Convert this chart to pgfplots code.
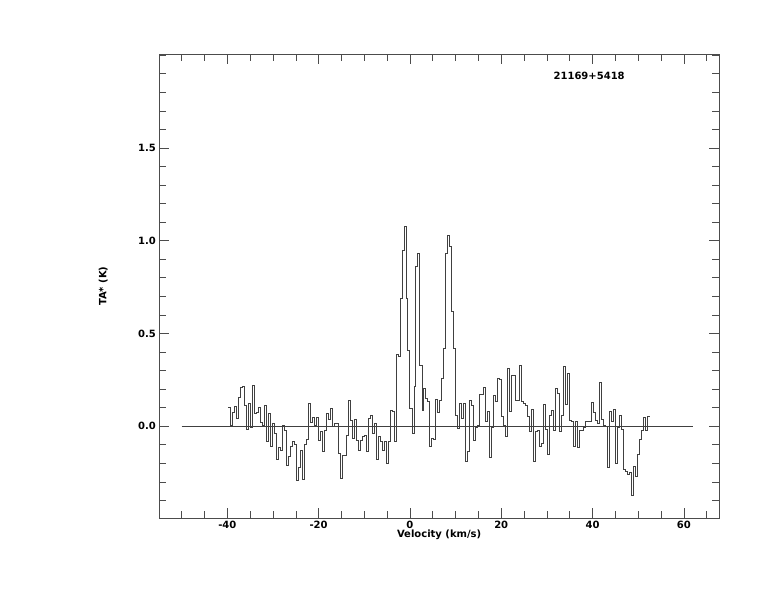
\documentclass[border=0pt]{standalone}
\usepackage{fontspec}
\setmainfont{DejaVu Sans}
\usepackage{pgfplots}
\usepackage{pgfplotstable}
\pgfplotsset{compat=1.18}
\pgfplotstableread{
v T
-39.85 0.10
-39.41 0.005
-38.97 0.077
-38.54 0.108
-38.10 0.041
-37.66 0.158
-37.22 0.212
-36.79 0.216
-36.35 0.113
-35.91 -0.018
-35.47 0.122
-35.04 -0.004
-34.60 0.221
-34.16 0.068
-33.72 0.077
-33.29 0.10
-32.85 0.023
-32.41 0.005
-31.97 0.113
-31.54 -0.084
-31.10 0.068
-30.66 -0.111
-30.22 0.014
-29.79 -0.04
-29.35 -0.18
-28.91 -0.115
-28.47 -0.13
-28.04 0.005
-27.60 -0.022
-27.16 -0.21
-26.72 -0.162
-26.29 -0.108
-25.85 -0.079
-25.41 -0.10
-24.97 -0.29
-24.53 -0.22
-24.10 -0.13
-23.66 -0.288
-23.22 -0.10
-22.78 -0.072
-22.35 0.122
-21.91 0.023
-21.47 0.05
-21.03 0.005
-20.60 0.05
-20.16 -0.075
-19.72 -0.03
-19.28 -0.135
-18.85 -0.02
-18.41 0.068
-17.97 0.038
-17.53 0.097
-17.10 0.0
-16.66 0.016
-16.22 0.016
-15.78 -0.146
-15.35 -0.28
-14.91 -0.155
-14.47 -0.155
-14.03 -0.047
-13.59 0.142
-13.16 0.034
-12.72 -0.065
-12.28 0.038
-11.84 -0.074
-11.41 -0.128
-10.97 -0.077
-10.53 -0.056
-10.09 -0.047
-9.66 -0.137
-9.22 0.043
-8.78 0.056
-8.34 -0.038
-7.91 0.016
-7.47 -0.181
-7.03 -0.056
-6.59 -0.083
-6.16 -0.128
-5.72 -0.083
-5.28 -0.2
-4.84 -0.083
-4.41 0.088
-3.97 0.079
-3.53 -0.083
-3.09 0.385
-2.65 0.376
-2.22 0.69
-1.78 0.95
-1.34 1.08
-0.90 0.69
-0.47 0.41
-0.03 0.097
0.41 -0.04
0.85 0.214
1.28 0.86
1.72 0.93
2.16 0.33
2.60 0.088
3.03 0.205
3.47 0.15
3.91 0.133
4.35 -0.11
4.78 -0.065
5.22 -0.07
5.66 0.146
6.10 0.074
6.54 0.14
6.97 0.26
7.41 0.42
7.85 0.93
8.29 1.03
8.72 0.97
9.16 0.62
9.60 0.42
10.04 0.06
10.47 -0.01
10.91 0.124
11.35 0.04
11.79 0.124
12.22 -0.19
12.66 -0.137
13.10 0.142
13.54 0.115
13.97 -0.074
14.41 -0.005
14.85 0.007
15.29 0.174
15.73 0.174
16.16 0.21
16.60 0.025
17.04 0.079
17.48 -0.17
17.91 -0.005
18.35 0.169
18.79 0.133
19.23 0.259
19.66 0.253
20.10 0.052
20.54 0.007
20.98 -0.056
21.41 0.313
21.85 0.079
22.29 0.277
22.73 0.277
23.16 0.137
23.60 0.142
24.04 0.33
24.48 0.133
24.91 0.124
25.35 0.115
25.79 0.052
26.23 -0.029
26.67 0.09
27.10 -0.19
27.54 -0.029
27.98 -0.02
28.42 -0.106
28.85 -0.092
29.29 0.12
29.73 -0.016
30.17 -0.15
30.60 0.061
31.04 0.083
31.48 -0.023
31.92 0.205
32.35 0.178
32.79 -0.029
33.23 0.061
33.67 0.325
34.10 0.12
34.54 0.286
34.98 0.034
35.42 0.025
35.85 -0.106
36.29 0.025
36.73 -0.113
37.17 -0.02
37.61 -0.02
38.04 -0.005
38.48 0.025
38.92 0.025
39.36 0.025
39.79 0.128
40.23 0.074
40.67 0.034
41.11 0.013
41.54 0.239
41.98 0.038
42.42 0.007
42.86 -0.002
43.29 -0.22
43.73 0.079
44.17 0.025
44.61 0.092
45.04 -0.2
45.48 -0.005
45.92 0.059
46.36 -0.016
46.80 -0.23
47.23 -0.245
47.67 -0.257
48.11 -0.25
48.55 -0.37
48.98 -0.214
49.42 -0.268
49.86 -0.15
50.30 -0.07
50.73 -0.023
51.17 0.049
51.61 -0.02
52.05 0.054
52.48 0.054
}\spec
\begin{document}
\begin{tikzpicture}[font=\fontsize{10bp}{12bp}\selectfont\bfseries]
\useasboundingbox (0,0) rectangle (774bp,612bp);
\begin{axis}[
  at={(159.3bp,94bp)}, anchor=south west,
  scale only axis, width=559.7bp, height=463.7bp,
  xmin=-54.9, xmax=67.7, ymin=-0.495, ymax=2.005,
  axis line style={black!70, line width=0.6bp},
  every tick/.style={black!70, line width=0.6bp},
  tick align=inside,
  major tick length=10bp, minor tick length=7bp,
  xtick={-40,-20,...,60}, minor xtick={-50,-45,...,65},
  ytick={0,0.5,1,1.5}, minor ytick={-0.4,-0.3,...,1.95},
  y tick label style={/pgf/number format/.cd, fixed, fixed zerofill, precision=1, /tikz/.cd},
  /pgf/number format/assume math mode=true,
  xlabel={Velocity (km/s)}, ylabel={TA* (K)},
  xlabel style={at={(axis description cs:0.5,-0.0367)}, anchor=center},
  ylabel style={at={(axis description cs:-0.1,0.5)}, anchor=center},
]
\addplot[black!75, line width=0.6bp] coordinates {(-50,0) (62,0)};
\addplot[const plot, black!75, line width=0.6bp] table[x=v, y=T] {\spec};
\node[anchor=center] at (rel axis cs:0.768,0.953) {21169+5418};
\end{axis}
\end{tikzpicture}
\end{document}
